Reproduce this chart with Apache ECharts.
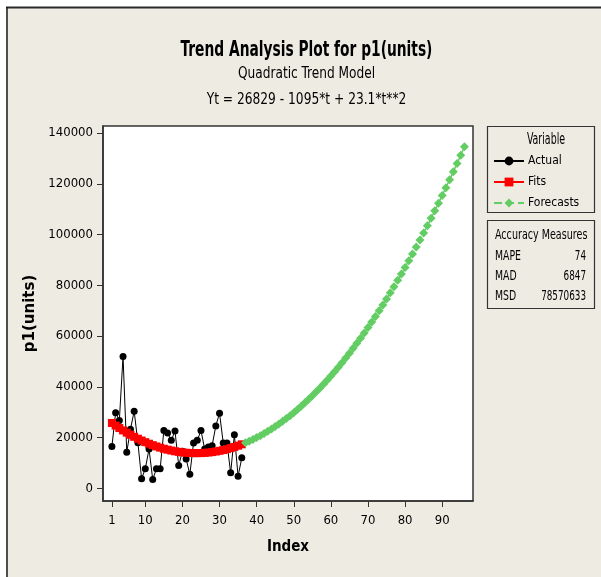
<!DOCTYPE html>
<html>
<head>
<meta charset="utf-8">
<script src="https://cdn.jsdelivr.net/npm/echarts@6/dist/echarts.min.js"></script>
<style>
html,body{margin:0;padding:0;background:#fff;}
#c{width:601px;height:577px;}
</style>
</head>
<body>
<div id="c"></div>
<script>
// ---- data ----
var actualValues = [16500, 29800, 26700, 52000, 14200, 23300, 30400, 18000, 3800, 7700,
  15500, 3500, 7700, 7700, 22800, 21800, 18900, 22600, 9000, 14600,
  11600, 5500, 17900, 18900, 22800, 15500, 16300, 16800, 24600, 29600,
  17900, 17900, 6100, 21100, 4800, 12000];
var fitValues = [25757, 24731, 23752, 22819, 21932, 21091, 20296, 19547, 18845, 18189,
  17579, 17015, 16498, 16027, 15602, 15223, 14890, 14603, 14363, 14169,
  14021, 13919, 13864, 13855, 13892, 13975, 14104, 14279, 14501, 14769,
  15083, 15443, 15850, 16303, 16802, 17347];
var forecastValues = [17938, 18575, 19259, 19989, 20765, 21587, 22456, 23371, 24332, 25339,
  26392, 27491, 28637, 29829, 31067, 32351, 33682, 35059, 36482, 37951,
  39466, 41027, 42635, 44289, 45989, 47735, 49528, 51367, 53252, 55183,
  57160, 59183, 61253, 63369, 65531, 67739, 69994, 72295, 74642, 77035,
  79474, 81959, 84491, 87069, 89693, 92363, 95080, 97843, 100652, 103507,
  106408, 109355, 112349, 115389, 118475, 121607, 124786, 128011, 131282, 134599];
var xTicks = [1, 10, 20, 30, 40, 50, 60, 70, 80, 90];
var yTicks = [0, 20000, 40000, 60000, 80000, 100000, 120000, 140000];
var accuracyNames = ['MAPE', 'MAD', 'MSD'];
var accuracyValues = ['74', '6847', '78570633'];

var FONT = '"DejaVu Sans Condensed", "DejaVu Sans", sans-serif';
var BG = '#EEEBE2';

var actualData = actualValues.map(function (v, i) { return [i + 1, v]; });
var fitData = fitValues.map(function (v, i) { return [i + 1, v]; });
var forecastData = forecastValues.map(function (v, i) { return [fitValues.length + i + 1, v]; });

var chart = echarts.init(document.getElementById('c'), null, {renderer: 'canvas'});

function txt(x, y, s, font, align, sx) {
  return {type: 'text', x: x, y: y, scaleX: sx, scaleY: 1,
    style: {text: s, font: font, fill: '#000', textAlign: align, textVerticalAlign: 'middle'}};
}

var graphics = [
  {type: 'rect', shape: {x: 0, y: 0, width: 601, height: 7}, style: {fill: '#fff'}, silent: true},
  {type: 'rect', shape: {x: 0, y: 0, width: 6, height: 577}, style: {fill: '#fff'}, silent: true},
  {type: 'line', shape: {x1: 6, y1: 7.5, x2: 601, y2: 7.5}, style: {stroke: '#2a2a2a', lineWidth: 2}, silent: true},
  {type: 'line', shape: {x1: 7, y1: 7, x2: 7, y2: 577}, style: {stroke: '#1a1a1a', lineWidth: 1.5}, silent: true},
  txt(306.5, 51, 'Trend Analysis Plot for p1(units)', 'bold 21px ' + FONT, 'center', 0.73),
  txt(306.5, 74, 'Quadratic Trend Model', '16px ' + FONT, 'center', 0.845),
  txt(306.5, 100, 'Yt = 26829 - 1095*t + 23.1*t**2', '16px ' + FONT, 'center', 0.85),
  {type: 'rect', shape: {x: 487.5, y: 126.5, width: 107, height: 86}, style: {fill: 'none', stroke: '#333', lineWidth: 1.2}, silent: true},
  txt(546, 140, 'Variable', '15px ' + FONT, 'center', 0.7),
  {type: 'rect', shape: {x: 487.5, y: 220.5, width: 107, height: 88}, style: {fill: 'none', stroke: '#333', lineWidth: 1.2}, silent: true},
  txt(495, 235, 'Accuracy Measures', '14px ' + FONT, 'left', 0.76)
];
var accY = [256, 276, 296];
accuracyNames.forEach(function (n, i) {
  graphics.push(txt(495, accY[i], n, '14px ' + FONT, 'left', 0.74));
  graphics.push(txt(586, accY[i], accuracyValues[i], '14px ' + FONT, 'right', 0.7));
});

var option = {
  backgroundColor: BG,
  animation: false,
  graphic: graphics,
  legend: {
    orient: 'vertical',
    left: 493,
    top: 155,
    padding: 0,
    itemWidth: 30,
    itemHeight: 11,
    itemGap: 9,
    textStyle: {fontFamily: FONT, fontSize: 12, color: '#000', padding: [0, 0, 0, -1]},
    data: ['Actual', 'Fits', 'Forecasts']
  },
  grid: {
    left: 103, right: 128, top: 126, bottom: 76,
    show: true, backgroundColor: '#fff', borderColor: '#333', borderWidth: 1.5
  },
  xAxis: {
    type: 'value',
    min: -1.4, max: 98.3,
    name: 'Index',
    nameLocation: 'middle',
    nameGap: 39,
    nameTextStyle: {fontFamily: FONT, fontWeight: 'bold', fontSize: 15, color: '#000'},
    axisLine: {show: true, onZero: false, lineStyle: {color: '#333', width: 1.5}},
    axisTick: {show: true, length: 6, customValues: xTicks, lineStyle: {color: '#333'}},
    axisLabel: {customValues: xTicks, margin: 13, fontFamily: FONT, fontSize: 13, color: '#000',
      formatter: function (v) { return String(v); }},
    splitLine: {show: false}
  },
  yAxis: {
    type: 'value',
    min: -5000, max: 142800,
    name: 'p1(units)',
    nameLocation: 'middle',
    nameGap: 60,
    nameTextStyle: {fontFamily: '"DejaVu Sans", sans-serif', fontWeight: 'bold', fontSize: 15, color: '#000'},
    axisLine: {show: true, onZero: false, lineStyle: {color: '#333', width: 1.5}},
    axisTick: {show: true, length: 6, customValues: yTicks, lineStyle: {color: '#333'}},
    axisLabel: {customValues: yTicks, margin: 10, fontFamily: FONT, fontSize: 13, color: '#000',
      formatter: function (v) { return String(v); }},
    splitLine: {show: false}
  },
  series: [
    {
      name: 'Actual', type: 'line', data: actualData,
      symbol: 'circle', symbolSize: 7,
      itemStyle: {color: '#000'},
      lineStyle: {color: '#000', width: 1},
      z: 2
    },
    {
      name: 'Fits', type: 'line', data: fitData,
      symbol: 'rect', symbolSize: 8,
      itemStyle: {color: '#ff0000'},
      lineStyle: {color: '#ff0000', width: 2},
      z: 3
    },
    {
      name: 'Forecasts', type: 'line', data: forecastData,
      symbol: 'diamond', symbolSize: 9,
      itemStyle: {color: '#62CD62'},
      lineStyle: {color: '#62CD62', width: 1.5, type: 'dashed'},
      z: 3
    }
  ]
};
chart.setOption(option);
</script>
</body>
</html>
